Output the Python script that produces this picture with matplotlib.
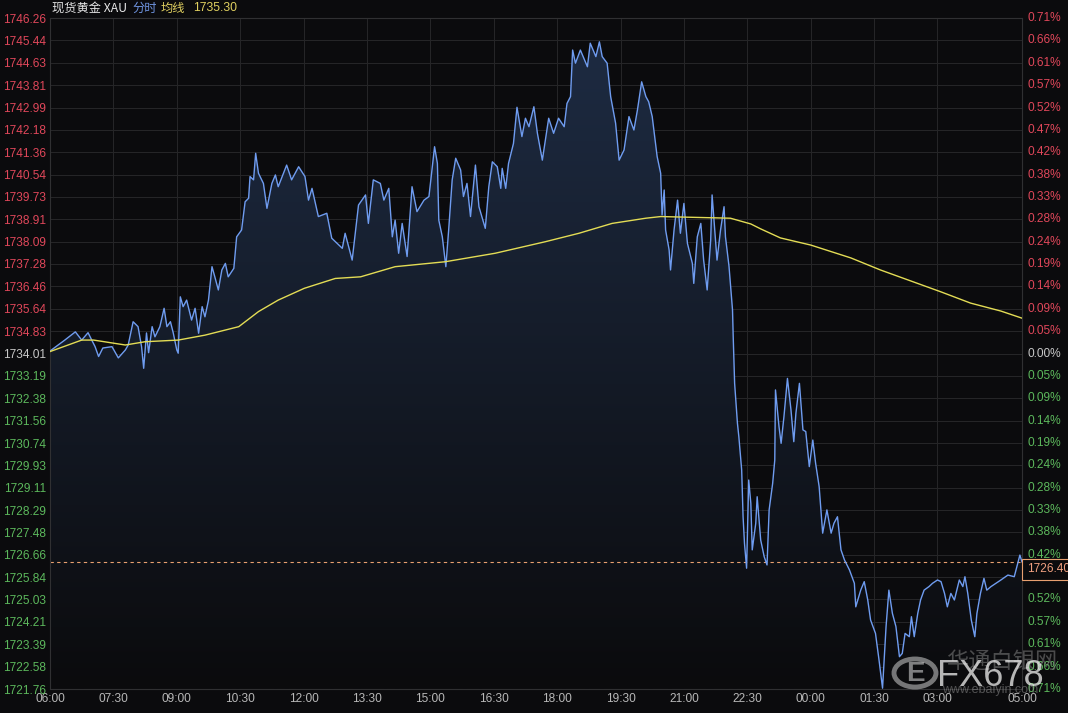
import numpy as np
import matplotlib
matplotlib.use("Agg")
import matplotlib.pyplot as plt
from matplotlib.colors import LinearSegmentedColormap
from matplotlib.patches import Polygon, Circle

# --- data (minutes after 06:00, price) ---
minutes = [0, 21, 36, 45, 54, 64, 69, 75, 88, 97, 107, 111, 118, 125, 130, 133, 137, 140,
           145, 149, 156, 162, 166, 171, 175, 180, 182, 185, 189, 194, 201, 206, 211, 216,
           220, 225, 230, 234, 239, 244, 249, 253, 261, 265, 272, 277, 282, 284, 289, 292,
           296, 303, 308, 315, 320, 324, 336, 343, 353, 362, 367, 372, 381, 393, 400, 415,
           419, 429, 438, 448, 452, 459, 469, 474, 481, 486, 490, 495, 500, 507, 514, 521,
           531, 538, 546, 550, 552, 557, 562, 566, 571, 576, 583, 587, 592, 597, 604, 609,
           618, 623, 628, 635, 640, 642, 647, 651, 658, 663, 670, 675, 680, 687, 692, 699,
           708, 715, 722, 730, 734, 739, 742, 746, 753, 763, 767, 775, 780, 784, 791, 796,
           803, 808, 815, 822, 829, 834, 840, 846, 850, 855, 862, 867, 869, 872, 874, 879,
           881, 886, 891, 895, 900, 905, 912, 914, 919, 924, 928, 933, 938, 940, 943, 947,
           952, 957, 959, 964, 969, 970, 972, 976, 978, 982, 984, 986, 989, 992, 995, 997,
           1002, 1004, 1009, 1014, 1018, 1021, 1026, 1029, 1030, 1035, 1038, 1042, 1047, 1052,
           1056, 1059, 1064, 1069, 1073, 1078, 1083, 1087, 1092, 1097, 1103, 1109, 1113, 1118,
           1123, 1128, 1135, 1142, 1144, 1151, 1156, 1161, 1165, 1172, 1177, 1182, 1187, 1191,
           1196, 1201, 1206, 1210, 1214, 1220, 1223, 1227, 1232, 1236, 1241, 1248, 1253, 1260,
           1265, 1270, 1274, 1279, 1284, 1291, 1296, 1299, 1303, 1308, 1313, 1316, 1321, 1326,
           1330, 1336, 1343, 1350, 1360, 1369, 1374, 1377, 1380]
price = [1734.10, 1734.50, 1734.80, 1734.50, 1734.77, 1734.26, 1733.90, 1734.21, 1734.26,
         1733.85, 1734.14, 1734.32, 1735.17, 1734.99, 1734.26, 1733.47, 1734.76, 1734.04,
         1734.99, 1734.62, 1734.99, 1735.66, 1734.99, 1735.17, 1734.76, 1734.14, 1734.02,
         1736.08, 1735.72, 1735.96, 1735.23, 1735.66, 1734.75, 1735.72, 1735.35, 1735.96,
         1737.18, 1736.81, 1736.33, 1737.06, 1737.30, 1736.81, 1737.12, 1738.27, 1738.52,
         1739.55, 1739.68, 1740.47, 1740.35, 1741.32, 1740.59, 1740.22, 1739.31, 1740.22,
         1740.53, 1740.10, 1740.89, 1740.35, 1740.83, 1740.47, 1739.61, 1740.04, 1739.01,
         1739.13, 1738.22, 1737.85, 1738.40, 1737.42, 1739.43, 1739.80, 1738.76, 1740.35,
         1740.22, 1739.61, 1740.04, 1738.27, 1738.88, 1737.67, 1738.76, 1737.55, 1740.10,
         1739.19, 1739.61, 1739.74, 1741.56, 1740.95, 1738.88, 1738.27, 1737.18, 1738.52,
         1740.35, 1741.14, 1740.71, 1739.74, 1740.22, 1739.01, 1740.89, 1739.37, 1738.58,
         1740.10, 1741.01, 1740.83, 1740.04, 1740.77, 1740.04, 1740.95, 1741.68, 1743.00,
         1741.93, 1742.60, 1742.29, 1743.02, 1742.05, 1741.07, 1742.60, 1742.05, 1742.60,
         1742.29, 1743.14, 1743.39, 1745.09, 1744.61, 1745.09, 1744.48, 1745.34, 1744.85,
         1745.39, 1744.85, 1744.61, 1743.39, 1742.42, 1741.07, 1741.44, 1742.66, 1742.17,
         1742.90, 1743.93, 1743.39, 1743.20, 1742.66, 1741.20, 1740.59, 1739.07, 1739.98,
         1738.52, 1737.79, 1737.06, 1738.52, 1739.61, 1738.40, 1739.49, 1738.03, 1737.30,
         1736.57, 1738.27, 1738.76, 1737.42, 1736.33, 1738.15, 1739.80, 1738.76, 1737.42,
         1738.52, 1739.37, 1738.27, 1737.20, 1735.60, 1734.62, 1732.92, 1731.46, 1730.97,
         1729.76, 1728.05, 1727.08, 1726.17, 1729.39, 1728.54, 1726.84, 1727.81, 1728.78,
         1727.20, 1726.59, 1726.29, 1728.30, 1729.27, 1730.12, 1732.68, 1731.34, 1730.73,
         1731.70, 1733.10, 1731.95, 1730.79, 1731.83, 1732.92, 1731.22, 1731.16, 1729.88,
         1730.85, 1730.00, 1729.15, 1727.45, 1728.30, 1727.45, 1727.81, 1728.05, 1726.84,
         1726.47, 1726.11, 1725.62, 1724.76, 1725.37, 1725.68, 1725.01, 1724.28, 1723.79,
         1722.82, 1721.79, 1724.04, 1725.37, 1724.52, 1724.04, 1722.94, 1723.06, 1723.79,
         1723.67, 1724.40, 1723.67, 1724.52, 1725.01, 1725.37, 1725.50, 1725.62, 1725.74,
         1725.68, 1725.25, 1724.76, 1725.25, 1725.01, 1725.74, 1725.50, 1725.86, 1725.25,
         1724.28, 1723.67, 1724.52, 1725.25, 1725.80, 1725.37, 1725.50, 1725.62, 1725.74,
         1725.92, 1725.86, 1726.35, 1726.65, 1726.40]

avg_minutes = [0, 45, 62, 107, 135, 182, 220, 268, 296, 324, 361, 405, 441, 490, 561, 632,
               703, 751, 798, 846, 867, 966, 995, 1009, 1037, 1080, 1137, 1179, 1222, 1265,
               1307, 1350, 1380]
avg_price = [1734.08, 1734.50, 1734.50, 1734.32, 1734.44, 1734.50, 1734.68, 1734.99, 1735.54,
             1735.96, 1736.39, 1736.75, 1736.81, 1737.18, 1737.36, 1737.67, 1738.09, 1738.40,
             1738.76, 1738.95, 1739.01, 1738.95, 1738.74, 1738.56, 1738.23, 1737.97, 1737.50,
             1737.06, 1736.66, 1736.26, 1735.85, 1735.56, 1735.30]

prev_close = 1734.01
y_labels = ["1721.76", "1722.58", "1723.39", "1724.21", "1725.03", "1725.84", "1726.66",
            "1727.48", "1728.29", "1729.11", "1729.93", "1730.74", "1731.56", "1732.38",
            "1733.19", "1734.01", "1734.83", "1735.64", "1736.46", "1737.28", "1738.09",
            "1738.91", "1739.73", "1740.54", "1741.36", "1742.18", "1742.99", "1743.81",
            "1744.63", "1745.44", "1746.26"]
x_ticks = [0, 90, 180, 270, 360, 450, 540, 630, 720, 810, 900, 990, 1080, 1170, 1260, 1380]
x_labels = ["06:00", "07:30", "09:00", "10:30", "12:00", "13:30", "15:00", "16:30",
            "18:00", "19:30", "21:00", "22:30", "00:00", "01:30", "03:00", "05:00"]

bg = "#0b0b0d"
red, green, white = "#e0475a", "#5cb85c", "#c8c8c8"
num_font = ["Liberation Sans", "DejaVu Sans"]
cjk_font = ["Noto Sans CJK SC", "DejaVu Sans"]

fig = plt.figure(figsize=(10.68, 7.13), dpi=100, facecolor=bg)
ax = fig.add_axes([50 / 1068, 24 / 713, 972 / 1068, 671 / 713], facecolor=bg)

y_vals = [float(v) for v in y_labels]
lo, hi = y_vals[0], y_vals[-1]
ax.set_xlim(0, 1380)
ax.set_ylim(lo, hi)

# gradient fill under the price line
verts = np.column_stack([np.r_[minutes, minutes[::-1]],
                         np.r_[price, np.full(len(price), lo)]])
clip = Polygon(verts, closed=True, facecolor="none", edgecolor="none")
ax.add_patch(clip)
cmap = LinearSegmentedColormap.from_list("fade", [bg, "#1e2c44"])
grad = np.linspace(1, 0, 256).reshape(-1, 1)
im = ax.imshow(grad, extent=[0, 1380, lo, hi], aspect="auto", cmap=cmap,
               origin="upper", zorder=1)
im.set_clip_path(clip)

ax.plot(minutes, price, color="#6f9cf0", lw=1.0, zorder=3)
ax.plot(avg_minutes, avg_price, color="#e3dc55", lw=1.0, zorder=3)

last = price[-1]
ax.axhline(last, color="#e8a070", lw=0.8, ls=(0, (3, 3)), zorder=2)

# grid
ax.set_yticks(y_vals)
ax.set_xticks(x_ticks)
ax.grid(True, color="#262628", lw=0.7, zorder=0)
ax.set_axisbelow(True)
for s in ax.spines.values():
    s.set_color("#303032")
    s.set_linewidth(0.8)

ax.tick_params(axis="both", length=0, pad=3)
ax.set_yticklabels(y_labels, fontsize=8.6, family=num_font)
for lab, v in zip(ax.get_yticklabels(), y_vals):
    lab.set_color(red if v > prev_close + 1e-6 else (green if v < prev_close - 1e-6 else white))
ax.set_xticklabels(x_labels, fontsize=8.6, family=num_font, color="#b8b8b8")

# right-hand percentage labels
for v in y_vals:
    pct = abs(v - prev_close) / prev_close * 100
    col = red if v > prev_close + 1e-6 else (green if v < prev_close - 1e-6 else white)
    ax.text(1.006, v, f"{pct:.2f}%", transform=ax.get_yaxis_transform(), ha="left",
            va="center", fontsize=8.6, family=num_font, color=col, clip_on=False, zorder=4)

# current price box (sits over the 0.47% label like in the terminal)
ax.text(1.005, last - 0.27, f"{last:.2f}", transform=ax.get_yaxis_transform(), ha="left",
        va="center", fontsize=8.6, family=num_font, color="#f0a080", clip_on=False, zorder=10,
        bbox=dict(boxstyle="square,pad=0.4", fc=bg, ec="#e8a070", lw=0.8))

# header
fig.text(52 / 1068, 1 - 8 / 713, "现货黄金 XAU", fontsize=8.8, family=cjk_font,
         color="#e6e6e6", va="center")
fig.text(132 / 1068, 1 - 8 / 713, "分时", fontsize=8.8, family=cjk_font,
         color="#6f94e0", va="center")
fig.text(161 / 1068, 1 - 8 / 713, "均线", fontsize=8.8, family=cjk_font,
         color="#e0d060", va="center")
fig.text(193 / 1068, 1 - 8 / 713, f"{avg_price[-1]:.2f}", fontsize=8.8, family=num_font,
         color="#e0d060", va="center")

# watermark
fig.patches.append(Circle((915 / 1068, 1 - 673 / 713), 21 / 1068, transform=fig.transFigure,
                          fill=False, ec="#d0d0d0", lw=3.5, alpha=0.55))
fig.text(915 / 1068, 1 - 674 / 713, "E", fontsize=20, family=num_font, weight="bold",
         color="#e0e0e0", alpha=0.55, ha="center", va="center")
fig.text(1002 / 1068, 1 - 661 / 713, "华通白银网", fontsize=16, family=cjk_font,
         color="#8c8c8c", alpha=0.5, ha="center", va="center")
fig.text(990 / 1068, 1 - 677 / 713, "FX678", fontsize=26, family=num_font,
         color="#f0f0f0", alpha=0.75, ha="center", va="center")
fig.text(990 / 1068, 1 - 690 / 713, "www.ebaiyin.com", fontsize=9, family=num_font,
         color="#909090", alpha=0.55, ha="center", va="center")

fig.savefig("out.png", dpi=100, facecolor=bg)
